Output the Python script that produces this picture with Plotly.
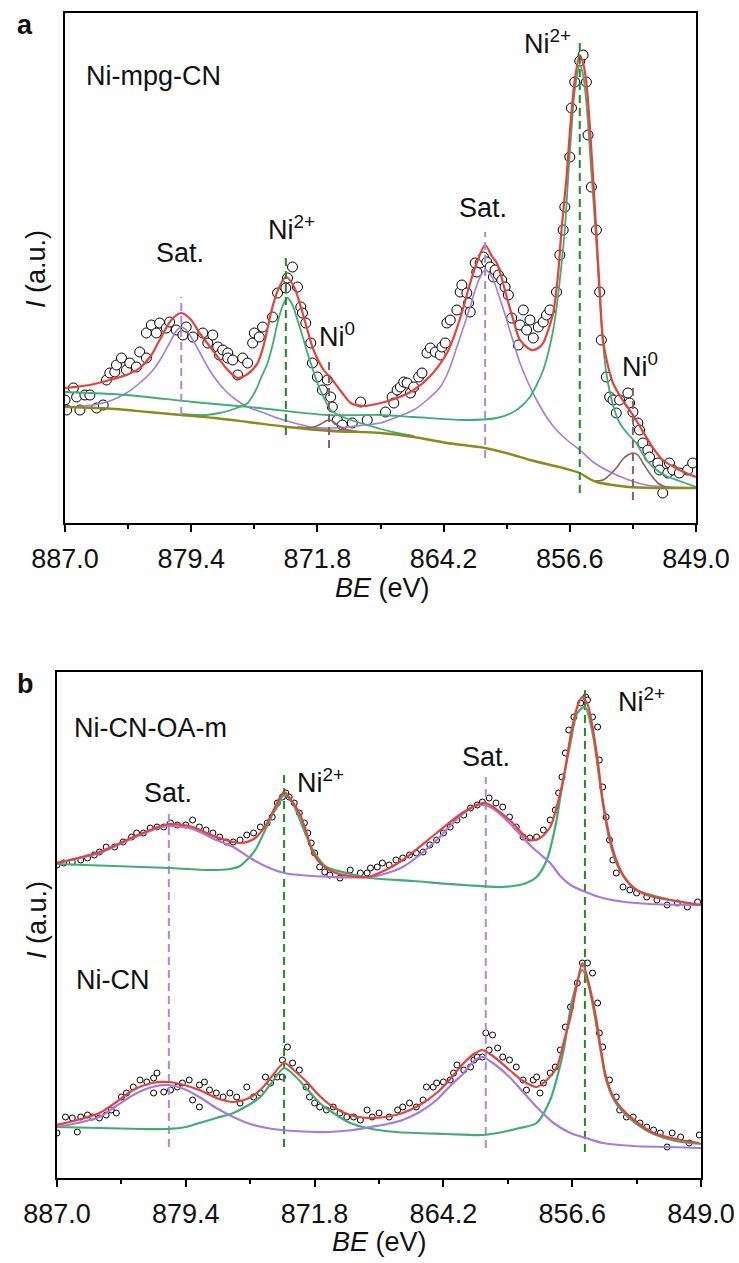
import plotly.graph_objects as go

W, H = 739, 1263

# ---------------- Panel a: Ni-mpg-CN, Ni 2p region ----------------
# measured points (binding energy in eV, intensity in a.u.)
a_pts_be = [887.0, 886.9, 886.5, 886.3, 886.1, 885.8, 885.5, 885.1, 884.7,
            884.5, 884.3, 884.0, 883.9, 883.6, 883.3, 883.1, 882.7, 882.5, 882.1,
            882.1, 881.8, 881.5, 881.3, 880.9, 880.7, 880.3, 879.9, 879.7,
            879.3, 878.7, 878.4, 878.1, 877.8, 877.7, 877.5, 877.2, 877.2, 876.9, 876.6, 876.3, 876.0,
            875.7, 875.6, 875.3, 875.1, 874.5, 874.2, 873.7, 873.6, 873.3, 873.0,
            872.8, 872.7, 872.5, 872.2, 872.1, 871.8, 871.5, 871.2, 871.0, 870.9, 870.6, 870.3, 869.7, 869.2, 868.8,
            867.7, 867.3, 867.2, 867.0, 866.8, 866.6, 866.4, 866.2, 866.0, 865.7, 865.5,
            865.2, 865.0, 864.7, 864.4, 864.3, 864.1, 864.0, 863.8, 863.4, 863.2, 863.1, 862.8, 862.7, 862.6,
            862.3, 862.2, 862.0, 861.8, 861.6, 861.4, 861.2, 861.1, 860.9, 860.7, 860.5, 860.3,
            860.1, 859.7, 859.6, 859.4, 859.2, 859.0, 858.8, 858.5, 858.2, 858.0, 857.8,
            857.4, 857.2, 857.0, 856.9, 856.6, 856.5, 856.3, 856.0, 855.8, 855.6, 855.5, 855.3, 855.0, 854.8,
            854.7, 854.4, 854.2, 854.0, 853.8, 853.6, 853.1, 853.0, 852.8, 852.5, 852.4, 852.2, 851.9, 851.8,
            851.3, 851.2, 851.0, 850.7, 850.6, 850.4, 850.0, 849.5, 849.2]
a_pts_i = [123, 113, 135, 126, 113, 128, 128, 115, 118,
           143, 150, 151, 158, 165, 153, 160, 156, 171, 165,
           190, 198, 190, 200, 195, 201, 193, 188, 196,
           186, 190, 180, 188, 176, 168, 173, 170, 165, 163, 148, 165, 160,
           180, 190, 186, 196, 206, 230, 235, 245, 256, 236,
           216, 210, 200, 180, 160, 146, 133, 143, 126, 116, 103, 98, 100, 121, 103,
           111, 126, 120, 133, 136, 141, 140, 130, 136, 146, 150,
           170, 175, 171, 168, 176, 180, 200, 203, 213, 231, 238, 230, 220, 211,
           260, 251, 260, 266, 261, 256, 246, 253, 248, 243, 236, 228,
           205, 178, 198, 213, 193, 203, 185, 196, 201, 208, 213,
           231, 268, 293, 316, 366, 415, 441, 462, 468, 441, 388, 336, 293, 231,
           183, 146, 126, 123, 110, 123, 130, 120, 111, 100, 93, 80, 73, 66,
           60, 53, 30, 50, 60, 53, 50, 53, 60]

# fitted envelope
a_env_be = [887.0, 885.5, 884.3, 883.3, 882.5, 881.8, 881.3, 880.6, 880.0, 879.4, 878.9, 878.3,
            877.8, 877.2, 876.6, 876.0, 875.4, 875.0, 874.6, 874.2, 873.7, 873.2, 872.8, 872.4,
            872.1, 871.5, 870.9, 870.3, 869.8, 869.0, 868.0, 867.0, 866.0, 865.0, 864.0, 863.5,
            863.0, 862.6, 862.2, 861.7, 861.3, 861.0, 860.7, 860.4, 860.0, 859.6, 858.9, 858.5,
            858.2, 857.9, 857.6, 857.3, 857.1, 856.8, 856.6, 856.3, 856.0, 855.8, 855.6, 855.3,
            855.0, 854.8, 854.6, 854.3, 854.0, 853.5, 853.0, 852.5, 852.0, 851.5, 851.0, 850.0, 849.0]
a_env_i = [135, 138, 143, 148, 155, 168, 183, 203, 210, 203, 190, 177,
           166, 153, 145, 149, 160, 180, 210, 232, 246, 236, 216, 193,
           176, 155, 143, 130, 120, 117, 120, 125, 133, 147, 170, 190,
           216, 240, 260, 278, 267, 260, 245, 226, 203, 183, 173, 175,
           180, 193, 210, 250, 293, 345, 390, 443, 468, 460, 440, 373,
           290, 233, 183, 157, 140, 125, 113, 100, 86, 73, 63, 53, 46]

# Shirley-type background
a_bg_be = [887.0, 884.0, 882.0, 880.0, 878.0, 876.0, 873.6, 871.0, 868.0, 866.0, 864.0,
           861.7, 860.0, 859.0, 857.0, 856.0, 855.5, 855.0, 854.0, 853.0, 851.0, 849.0]
a_bg_i = [116, 114, 111, 108, 105, 101, 96, 92, 90, 86, 80,
          75, 68, 63, 55, 50, 45, 41, 38, 36, 35, 35]

# Ni2+ 2p3/2 component (with its long tail)
a_ni2b_be = [887.0, 883.3, 879.3, 875.3, 871.2, 868.0, 866.0, 863.0, 861.0, 860.0, 859.5,
             859.0, 858.6, 858.2, 857.9, 857.6, 857.4, 857.2, 856.9, 856.7, 856.5, 856.3,
             856.0, 855.8, 855.6, 855.3, 855.0, 854.8, 854.6, 854.4, 854.0, 853.6, 853.1,
             852.6, 852.1, 851.6, 850.8, 850.0, 849.0]
a_ni2b_i = [131, 128, 121, 115, 108, 108, 106, 103, 105, 111, 117,
            126, 138, 153, 170, 193, 215, 243, 293, 345, 393, 433,
            458, 448, 420, 350, 280, 225, 180, 150, 118, 100, 89,
            80, 66, 56, 47, 42, 36]

# Ni2+ 2p1/2 component
a_ni2a_be = [880.0, 879.0, 878.5, 877.7, 877.0, 876.5, 876.0, 875.5, 875.2, 874.8, 874.5,
             874.2, 873.9, 873.6, 873.3, 873.0, 872.7, 872.4, 872.1, 871.8, 871.4, 871.0,
             870.4, 869.8, 869.0, 868.0, 867.0, 866.0]
a_ni2a_i = [109, 108, 108, 110, 113, 116, 120, 133, 145, 160, 178,
            200, 217, 225, 218, 203, 187, 170, 155, 140, 125, 113,
            107, 103, 99, 94, 90, 87]

# satellite components
a_sat1_be = [887.0, 885.3, 884.3, 883.3, 882.5, 881.7, 881.2, 880.7, 880.3, 880.0, 879.7,
             879.3, 878.8, 878.3, 877.8, 877.2, 876.6, 876.0, 875.0, 874.2, 873.2, 872.2,
             871.0, 870.0, 868.0]
a_sat1_i = [116, 118, 122, 130, 140, 153, 165, 180, 192, 196, 193,
            183, 168, 153, 141, 130, 122, 116, 110, 105, 100, 96,
            93, 92, 90]
a_sat2_be = [873.0, 871.0, 870.0, 869.0, 868.0, 867.0, 866.0, 865.2, 864.4, 863.9, 863.4,
             863.0, 862.6, 862.3, 862.0, 861.7, 861.4, 861.2, 860.8, 860.4, 860.0, 859.6,
             859.1, 858.6, 858.0, 857.4, 856.7, 856.0, 855.2, 854.4, 853.2, 852.0, 850.5, 849.0]
a_sat2_i = [96, 95, 96, 98, 100, 106, 113, 123, 136, 152, 176,
            196, 216, 233, 246, 253, 249, 243, 224, 203, 181, 160,
            140, 123, 106, 93, 82, 73, 61, 53, 44, 38, 36, 35]

# metallic Ni components
a_ni0a_be = [873.0, 872.4, 872.0, 871.6, 871.3, 871.1, 870.9, 870.6, 870.2, 869.6, 869.0]
a_ni0a_i = [96, 95, 96, 99, 102, 103, 102, 98, 94, 92, 91]
a_ni0b_be = [855.2, 854.6, 854.2, 853.8, 853.4, 853.1, 852.8, 852.5, 852.2, 851.8, 851.3, 850.8, 850.0]
a_ni0b_i = [42, 43, 48, 55, 64, 68, 70, 68, 60, 50, 40, 36, 35]

# peak-centre markers: position, kind, top, bottom
a_mark_be = [880.0, 873.7, 871.1, 861.7, 856.0, 852.8]
a_mark_kind = ["sat", "ni2", "ni0", "sat", "ni2", "ni0"]
a_mark_top = [226, 270, 165, 291, 483, 140]
a_mark_bot = [108, 88, 75, 65, 30, 23]

# ---------------- Panel b: Ni-CN-OA-m (upper) and Ni-CN (lower) ----------------
bt_pts_be = [887.0, 886.6, 886.1, 885.6, 885.2, 884.8, 884.5, 884.1, 883.6, 883.1, 882.6, 882.3,
             881.9, 881.5, 881.1, 880.7, 880.3, 879.9, 879.4, 879.0, 878.6, 878.2, 877.8, 877.4,
             877.0, 876.6, 876.2, 875.8, 875.4, 875.0, 874.6, 874.3, 874.0, 873.7, 873.5, 873.3,
             873.0, 872.7, 872.4, 872.2, 872.0, 871.8, 871.5, 871.2, 870.9, 870.3, 869.7, 869.1,
             868.7, 868.5, 868.1, 867.8, 867.4, 867.0, 866.6, 866.2, 865.8, 865.4, 865.0, 864.6,
             864.2, 863.8, 863.4, 863.0, 862.6, 862.2, 861.9, 861.5, 861.1, 860.7, 860.3, 859.9,
             859.5, 859.1, 858.7, 858.3, 857.9, 857.6, 857.4, 857.2, 857.0, 856.8, 856.5, 856.1,
             855.8, 855.7, 855.4, 855.1, 855.0, 854.8, 854.6, 854.4, 854.2, 854.0, 853.6, 853.2,
             852.8, 852.2, 851.6, 851.0, 850.4, 849.8, 849.2]
bt_pts_i = [313, 315, 316, 318, 320, 323, 326, 331, 331, 336, 341, 345,
            345, 350, 351, 351, 355, 353, 353, 358, 351, 348, 345, 341,
            336, 336, 338, 343, 345, 351, 355, 361, 375, 381, 385, 381,
            375, 365, 355, 345, 335, 325, 311, 306, 303, 300, 308, 305,
            305, 310, 311, 315, 313, 318, 320, 323, 325, 326, 333, 338,
            345, 351, 358, 363, 370, 373, 376, 380, 375, 371, 361, 351,
            341, 340, 341, 348, 358, 368, 385, 401, 425, 448, 461, 475,
            481, 478, 461, 451, 418, 391, 361, 338, 318, 305, 291, 288,
            285, 281, 278, 273, 275, 271, 276]

bt_env_be = [887.0, 884.5, 882.5, 881.2, 880.4, 879.0, 877.6, 876.2, 875.3, 874.6, 874.1, 873.6,
             873.1, 872.7, 872.3, 871.9, 871.3, 870.7, 869.7, 868.7, 867.6, 866.6, 864.6, 863.0,
             861.75, 860.3, 859.1, 858.5, 857.9, 857.5, 857.1, 856.6, 856.2, 856.0, 855.7, 855.4,
             855.1, 854.8, 854.4, 854.0, 853.5, 852.8, 851.8, 850.8, 849.0]
bt_env_i = [315, 326, 341, 350, 354, 351, 341, 335, 340, 355, 372, 386,
            376, 365, 347, 325, 312, 306, 302, 301, 308, 318, 345, 366,
            375, 358, 338, 340, 351, 372, 401, 451, 476, 481, 474, 451,
            418, 378, 342, 318, 300, 288, 281, 278, 273]
bt_ni2_be = [887.0, 882.0, 880.4, 878.0, 876.8, 876.2, 875.8, 875.3, 874.8, 874.3, 874.0, 873.6,
             873.1, 872.5, 871.9, 871.1, 869.9, 868.5, 866.0, 863.0, 860.7, 859.3, 858.7, 858.1,
             857.6, 857.2, 856.7, 856.3, 855.85, 855.4, 854.8, 854.4, 854.0, 853.4, 852.8, 850.8, 849.1]
bt_ni2_i = [314, 311, 310, 308, 309, 312, 318, 328, 345, 363, 371, 383,
            375, 351, 328, 311, 305, 300, 297, 293, 291, 295, 301, 318,
            351, 391, 435, 465, 471, 445, 375, 338, 315, 298, 288, 278, 273]
bt_sat_be = [887.0, 884.5, 882.5, 881.2, 880.4, 879.0, 877.6, 876.6, 875.6, 874.6, 873.6, 872.7,
             870.7, 868.5, 867.5, 866.6, 865.6, 864.6, 863.8, 863.0, 862.3, 861.75, 861.0, 860.3,
             859.1, 858.5, 857.9, 857.3, 856.7, 855.8, 854.8, 853.5, 852.0, 849.0]
bt_sat_i = [315, 325, 340, 349, 352, 349, 338, 331, 320, 311, 305, 303,
            301, 301, 305, 311, 323, 338, 352, 365, 372, 373, 366, 355,
            333, 324, 315, 302, 293, 286, 280, 276, 274, 273]

bb_pts_be = [887.0, 886.5, 886.1, 885.8, 885.6, 885.2, 884.9, 884.5, 884.1, 883.8, 883.5, 883.2,
             882.9, 882.5, 882.1, 881.7, 881.3, 881.1, 881.3, 880.7, 880.3, 879.9, 879.6, 879.2,
             878.6, 878.3, 879.0, 878.6, 878.0, 877.6, 877.2, 876.8, 876.4, 876.2, 875.8, 875.4,
             875.0, 874.7, 874.4, 874.0, 873.7, 873.7, 873.4, 873.1, 872.7, 872.3, 872.1, 871.8,
             871.5, 871.1, 870.7, 870.3, 869.9, 869.5, 869.1, 868.7,
             868.4, 868.0, 867.4, 866.9, 866.6, 866.2, 865.8, 865.4, 865.2, 864.8, 864.6, 864.2,
             863.8, 863.6, 863.4, 863.0, 862.6, 862.4, 862.2, 861.9, 861.7, 861.5, 861.3, 861.0,
             860.7, 860.3, 859.9, 859.5, 859.3, 858.9, 858.7, 858.5, 858.3, 857.9, 857.6, 857.3,
             857.0, 856.7, 856.3, 856.0, 855.7, 855.4, 855.1, 855.0, 854.8, 854.4, 854.0, 853.8,
             853.4, 853.0, 852.6, 852.2, 851.8, 851.4, 851.0, 850.7, 850.2, 849.7, 849.1]
bb_pts_i = [45, 61, 60, 46, 61, 63, 61, 60, 63, 68, 65, 81,
            85, 91, 98, 96, 100, 105, 85, 86, 88, 91, 95, 98,
            93, 96, 78, 71, 88, 85, 81, 85, 81, 75, 91, 81,
            85, 101, 95, 101, 118, 101, 131, 115, 108, 91, 81, 75,
            71, 68, 71, 65, 61, 61, 58, 68,
            61, 65, 61, 68, 71, 75, 71, 78, 91, 91, 95, 96,
            98, 105, 113, 108, 111, 118, 121, 121, 145, 128, 143, 130,
            121, 118, 111, 98, 88, 98, 101, 85, 95, 105, 111, 128,
            151, 171, 195, 215, 215, 205, 175, 145, 131, 98, 81, 68,
            61, 61, 55, 51, 48, 45, 31, 45, 41, 35, 43]

bb_env_be = [887.0, 885.8, 884.5, 883.5, 882.5, 881.4, 880.4, 879.5, 878.6, 877.6, 876.6, 875.8,
             875.0, 874.3, 873.6, 872.9, 872.2, 871.5, 870.7, 869.7, 868.7, 867.6, 866.6, 865.6,
             864.6, 863.8, 863.0, 862.4, 861.9, 861.2, 860.3, 859.5, 858.7, 858.1, 857.5, 857.1,
             856.7, 856.3, 856.0, 855.7, 855.2, 854.9, 854.6, 854.1, 853.6, 852.8, 851.8, 850.5, 849.1]
bb_env_i = [53, 58, 65, 76, 88, 95, 96, 93, 88, 80, 76, 79,
            88, 102, 115, 106, 95, 82, 71, 63, 60, 61, 65, 73,
            85, 99, 115, 124, 128, 121, 108, 97, 91, 98, 111, 136,
            161, 195, 215, 200, 161, 128, 101, 79, 68, 56, 45, 39, 35]
bb_ni2_be = [887.0, 882.0, 880.5, 879.4, 878.6, 877.6, 876.6, 875.8, 875.0, 874.3, 873.6, 872.9,
             872.2, 871.5, 870.7, 869.7, 868.7, 867.0, 864.0, 861.9, 860.7, 859.7, 858.7, 857.9,
             857.5, 857.1, 856.6, 856.0, 855.6, 855.2, 854.9, 854.6, 854.1, 853.6, 852.8, 851.8,
             850.5, 849.0]
bb_ni2_i = [51, 49, 49, 51, 55, 60, 65, 72, 81, 96, 110, 101,
            88, 75, 65, 55, 50, 46, 44, 43, 46, 50, 55, 78,
            100, 128, 178, 208, 190, 155, 125, 98, 77, 66, 54, 44,
            37, 34]
bb_sat_be = [887.0, 885.8, 884.5, 883.5, 882.5, 881.4, 880.4, 879.5, 878.6, 877.6, 876.6, 875.6,
             874.6, 873.0, 871.0, 869.5, 868.5, 867.5, 866.6, 865.6, 864.6, 863.8, 863.0, 862.4,
             861.9, 861.2, 860.3, 859.5, 858.7, 857.7, 856.7, 855.6, 854.8, 853.0, 851.0, 849.0]
bb_sat_i = [51, 55, 61, 72, 83, 91, 93, 89, 81, 70, 61, 54,
            50, 47, 46, 48, 51, 54, 58, 66, 78, 92, 105, 117,
            121, 114, 101, 86, 71, 55, 45, 39, 35, 32, 31, 30]

b_mark_be = [880.4, 873.6, 861.7, 855.85]
b_mark_kind = ["sat", "ni2", "sat", "ni2"]
b_mark_top = [366, 403, 401, 488]
b_mark_bot = [31, 31, 30, 26]

# axis ticks
major_ticks = [887.0, 879.4, 871.8, 864.2, 856.6, 849.0]
minor_ticks = [883.2, 875.6, 868.0, 860.4, 852.8]

# ---------------- styling ----------------
RED = "#E8403A"
GREEN = "#3FAE72"
GREEN_DASH = "#1F8A24"
PURPLE = "#A57BDC"
PURPLE_DASH = "#A98AE0"
OLIVE = "#8C8A18"
BROWN = "#8E5F5F"
FONT = "Liberation Sans, Arial, sans-serif"
mark_color = {"sat": PURPLE_DASH, "ni2": GREEN_DASH, "ni0": BROWN}

fig = go.Figure()


def curve(x, y, color, width, xa, ya):
    fig.add_trace(go.Scatter(x=x, y=y, mode="lines", xaxis=xa, yaxis=ya,
                             line=dict(color=color, width=width, shape="spline", smoothing=0.8),
                             hoverinfo="skip", showlegend=False))


def points(x, y, size, xa, ya):
    fig.add_trace(go.Scatter(x=x, y=y, mode="markers", xaxis=xa, yaxis=ya,
                             marker=dict(symbol="circle", size=size, color="white",
                                         line=dict(color="black", width=1)),
                             hoverinfo="skip", showlegend=False))


def markers(be, kind, top, bot, xa, ya):
    for xv, k, t, b in zip(be, kind, top, bot):
        fig.add_trace(go.Scatter(x=[xv, xv], y=[b, t], mode="lines", xaxis=xa, yaxis=ya,
                                 line=dict(color=mark_color[k], width=2, dash="8px,5px"),
                                 hoverinfo="skip", showlegend=False))


# panel a
points(a_pts_be, a_pts_i, 10, "x", "y")
curve(a_sat1_be, a_sat1_i, PURPLE, 1.6, "x", "y")
curve(a_sat2_be, a_sat2_i, PURPLE, 1.6, "x", "y")
curve(a_ni2a_be, a_ni2a_i, GREEN, 1.8, "x", "y")
curve(a_ni2b_be, a_ni2b_i, GREEN, 1.8, "x", "y")
curve(a_ni0a_be, a_ni0a_i, BROWN, 1.6, "x", "y")
curve(a_ni0b_be, a_ni0b_i, BROWN, 1.6, "x", "y")
curve(a_bg_be, a_bg_i, OLIVE, 2.4, "x", "y")
curve(a_env_be, a_env_i, RED, 2.2, "x", "y")
markers(a_mark_be, a_mark_kind, a_mark_top, a_mark_bot, "x", "y")

# panel b
points(bt_pts_be, bt_pts_i, 6, "x2", "y2")
points(bb_pts_be, bb_pts_i, 6, "x2", "y2")
markers(b_mark_be, b_mark_kind, b_mark_top, b_mark_bot, "x2", "y2")
for xs, ys in [(bt_ni2_be, bt_ni2_i), (bb_ni2_be, bb_ni2_i)]:
    curve(xs, ys, GREEN, 2.2, "x2", "y2")
for xs, ys in [(bt_sat_be, bt_sat_i), (bb_sat_be, bb_sat_i)]:
    curve(xs, ys, PURPLE, 2.2, "x2", "y2")
for xs, ys in [(bt_env_be, bt_env_i), (bb_env_be, bb_env_i)]:
    curve(xs, ys, RED, 2.2, "x2", "y2")


def xaxis_cfg(domain, anchor):
    return dict(domain=domain, anchor=anchor, range=[887, 849], automargin=False,
                tickmode="array", tickvals=major_ticks,
                ticktext=[f"{v:.1f}" for v in major_ticks],
                ticks="outside", ticklen=7, tickwidth=2, tickcolor="black",
                minor=dict(tickmode="array", tickvals=minor_ticks, ticks="outside",
                           ticklen=4, tickwidth=2, tickcolor="black"),
                showline=True, linewidth=2, linecolor="black", mirror=True,
                showgrid=False, zeroline=False,
                tickfont=dict(family=FONT, size=27, color="#111"),
                ticklabelstandoff=4)


def yaxis_cfg(domain, anchor, top):
    return dict(domain=domain, anchor=anchor, range=[0, top], automargin=False,
                showticklabels=False, ticks="", showline=True, linewidth=2,
                linecolor="black", mirror=True, showgrid=False, zeroline=False)


fig.update_layout(
    width=W, height=H, autosize=False,
    margin=dict(l=0, r=0, t=0, b=0, pad=0, autoexpand=False),
    paper_bgcolor="white", plot_bgcolor="white",
    xaxis=xaxis_cfg([65 / W, 696 / W], "y"),
    yaxis=yaxis_cfg([1 - 523 / H, 1 - 13 / H], "x", 510),
    xaxis2=xaxis_cfg([57 / W, 701 / W], "y2"),
    yaxis2=yaxis_cfg([1 - 1178 / H, 1 - 672 / H], "x2", 506),
    showlegend=False,
)


def label(text, x, y, size=27, xanchor="center", bold=False, angle=0):
    fig.add_annotation(text=f"<b>{text}</b>" if bold else text,
                       x=x / W, y=1 - y / H, xref="paper", yref="paper",
                       xanchor=xanchor, yanchor="middle", showarrow=False, textangle=angle,
                       font=dict(family=FONT, size=size, color="#111"))


# panel letters and sample names
label("a", 25, 25, size=27, bold=True)
label("b", 25, 684, size=27, bold=True)
label("Ni-mpg-CN", 84, 76, xanchor="left")
label("Ni-CN-OA-m", 72, 728, xanchor="left")
label("Ni-CN", 74, 980, xanchor="left")

# peak labels, panel a
label("Sat.", 180, 253)
label("Ni<sup>2+</sup>", 291, 228)
label("Ni<sup>0</sup>", 337, 335)
label("Sat.", 483, 208)
label("Ni<sup>2+</sup>", 547, 42)
label("Ni<sup>0</sup>", 640, 365)

# peak labels, panel b
label("Sat.", 168, 793)
label("Ni<sup>2+</sup>", 320, 781)
label("Sat.", 486, 757)
label("Ni<sup>2+</sup>", 641, 700)

# axis titles
label("<i>BE</i> (eV)", 382, 588)
label("<i>BE</i> (eV)", 380, 1242)
label("<i>I</i> (a.u.)", 36, 269, angle=-90)
label("<i>I</i> (a.u.)", 37, 920, angle=-90)

fig.write_html("out.html")
